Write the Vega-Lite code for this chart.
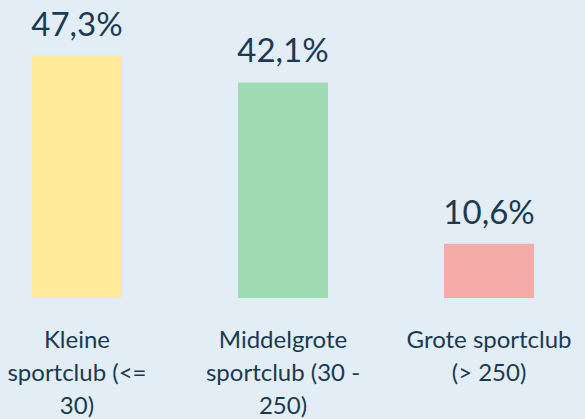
{
  "$schema": "https://vega.github.io/schema/vega-lite/v6.json",
  "width": 566,
  "height": 256,
  "autosize": {"type": "none"},
  "padding": {"left": 0, "top": 42, "right": 19, "bottom": 121},
  "background": "#e2edf5",
  "config": {"view": {"stroke": null}, "font": "Lato"},
  "data": {"values": [
    {"cat": "Kleine|sportclub (<=|30)", "pct": 47.3, "label": "47,3%", "color": "#ffeb99"},
    {"cat": "Middelgrote|sportclub (30 -|250)", "pct": 42.1, "label": "42,1%", "color": "#9fdbb3"},
    {"cat": "Grote sportclub|(> 250)", "pct": 10.6, "label": "10,6%", "color": "#f5aca8"}
  ]},
  "encoding": {
    "x": {"field": "cat", "type": "nominal", "sort": null,
      "scale": {"paddingInner": 0.563, "paddingOuter": 0.155},
      "axis": {"title": null, "domain": false, "ticks": false, "labelAngle": 0,
        "labelExpr": "split(datum.value, '|')", "labelFontSize": 24, "labelColor": "#1b3a52",
        "labelLineHeight": 33, "labelPadding": 30, "labelDx": 5, "labelLimit": 300}},
    "y": {"field": "pct", "type": "quantitative", "scale": {"domain": [0, 50]}, "axis": null}
  },
  "layer": [
    {"mark": {"type": "bar"}, "encoding": {"color": {"field": "color", "type": "nominal", "scale": null}}},
    {"mark": {"type": "text", "baseline": "alphabetic", "dy": -20, "fontSize": 33, "color": "#1b3a52"},
     "encoding": {"text": {"field": "label"}}}
  ]
}
